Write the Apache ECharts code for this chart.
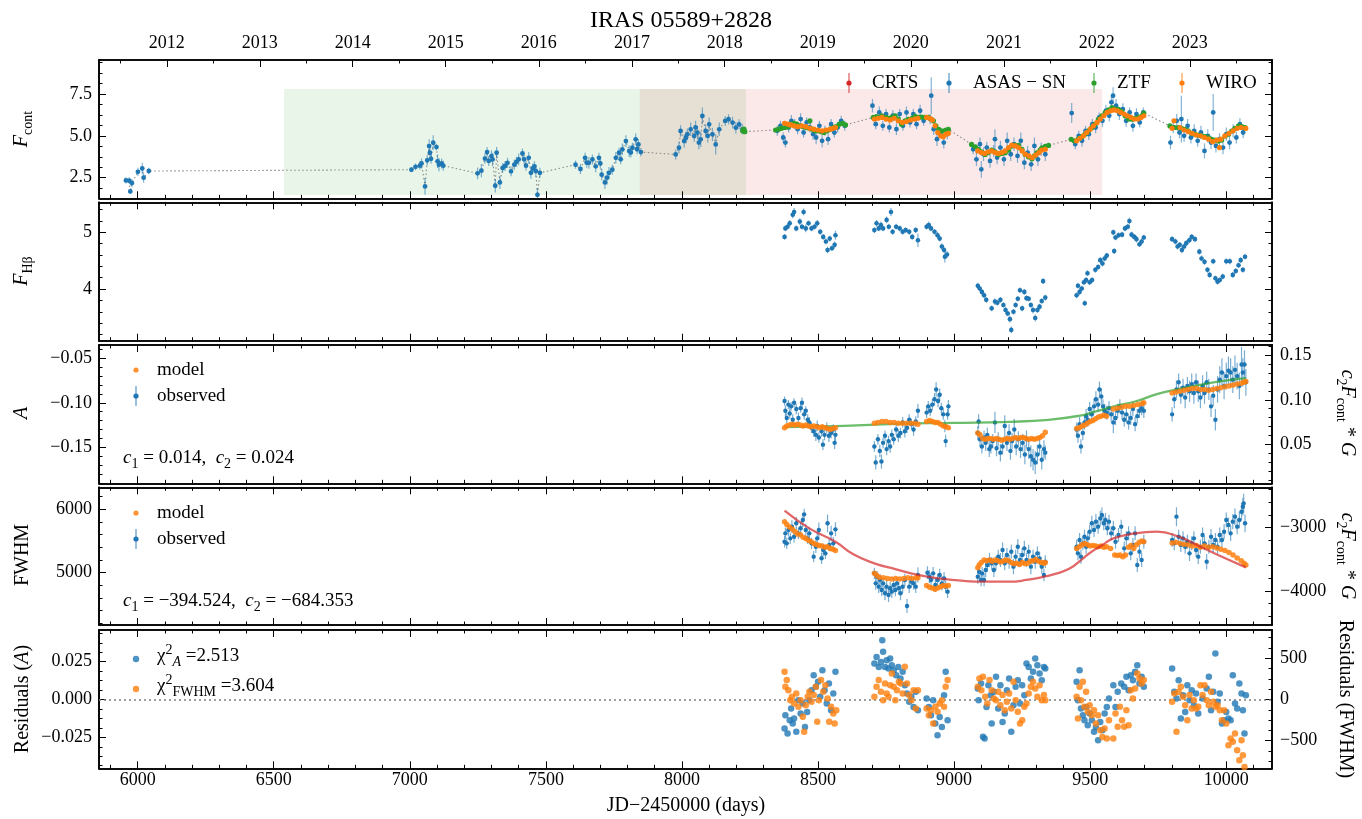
<!DOCTYPE html>
<html><head><meta charset="utf-8">
<script src="https://cdn.jsdelivr.net/npm/echarts@6/dist/echarts.min.js"></script>
<style>html,body{margin:0;padding:0;background:#fff}#c{width:1362px;height:819px}</style>
</head><body><div id="c"></div>
<script>
// ---------------- DATA ----------------
const xMajor = [6000,6500,7000,7500,8000,8500,9000,9500,10000];
const yearLabels = ['2012','2013','2014','2015','2016','2017','2018','2019','2020','2021','2022','2023'];
const yearTickJD = [6107,6449,6790,7132,7474,7816,8157,8499,8841,9183,9524,9866];
const yearMinorJD = [5936,6278,6620,6961,7303,7645,7987,8328,8670,9012,9354,9695,10037];

// shaded campaign windows (JD-2450000) and their vertical extent
const shadeGreen = [6538, 8235];
const shadePink = [7845, 9544];
const shadeY = [1.47, 7.8];

// Panel 1: continuum light curve [JD, F, err]
const asassn = [
[5957,2.34,0.18],[5969,2.32,0.2],[5973,1.68,0.15],[5979,2.18,0.25],[6001,2.85,0.25],[6017,3.05,0.35],[6022,2.50,0.3],[6041,2.90,0.2],
[7006,2.98,0.15],[7021,3.15,0.2],[7037,3.22,0.25],[7043,3.35,0.3],[7056,1.98,0.5],[7064,3.54,0.3],[7071,4.39,0.4],[7074,3.99,0.3],[7078,3.63,0.3],[7086,4.59,0.45],[7098,4.33,0.2],[7102,3.48,0.4],[7107,3.28,0.4],[7117,3.35,0.3],[7123,3.22,0.3],
[7249,2.76,0.35],[7263,2.92,0.4],[7276,3.64,0.3],[7284,4.03,0.3],[7290,3.50,0.3],[7300,3.79,0.35],[7304,3.59,0.4],[7314,2.02,0.4],[7319,3.99,0.35],[7331,2.22,0.4],[7341,3.08,0.3],[7350,3.20,0.3],[7359,3.39,0.3],[7372,2.88,0.3],[7384,3.28,0.3],[7392,3.45,0.3],[7400,3.59,0.35],[7414,3.95,0.3],[7420,3.60,0.3],[7427,3.22,0.3],[7437,3.69,0.35],[7445,2.79,0.35],[7452,3.05,0.3],[7458,3.18,0.3],[7463,2.90,0.35],[7469,1.48,0.4],[7478,2.79,0.3],
[7609,3.28,0.25],[7627,3.02,0.3],[7644,3.69,0.3],[7650,3.40,0.3],[7658,3.39,0.35],[7671,3.59,0.3],[7683,3.18,0.35],[7695,3.69,0.3],[7700,3.35,0.3],[7705,2.68,0.35],[7717,2.22,0.4],[7725,2.50,0.4],[7732,2.79,0.35],[7744,2.98,0.3],[7757,3.69,0.35],[7769,3.99,0.3],[7775,3.60,0.3],[7781,4.19,0.35],[7794,4.69,0.35],[7806,4.09,0.35],[7812,4.00,0.3],[7818,4.29,0.3],[7830,4.79,0.35],[7835,4.20,0.3],[7840,4.49,0.3],[7849,4.03,0.25],
[7977,3.89,0.3],[7989,4.29,0.35],[7995,5.29,0.35],[8008,4.69,0.4],[8015,4.90,0.35],[8020,5.09,0.35],[8032,5.39,0.4],[8045,4.99,0.35],[8050,5.50,0.4],[8057,5.19,0.4],[8062,4.60,0.4],[8069,4.79,0.45],[8075,6.19,0.5],[8087,5.29,0.4],[8095,5.00,0.4],[8100,5.69,0.4],[8112,5.09,0.4],[8124,4.49,0.6],[8137,5.39,0.4],[8159,5.89,0.3],[8171,5.99,0.3],[8186,5.79,0.35],[8198,5.49,0.35],[8210,5.69,0.3],[8222,5.39,0.3],
[8350,5.3,0.3],[8362,5.6,0.3],[8372,4.9,0.3],[8380,4.6,0.3],[8392,5.5,0.3],[8402,5.9,0.35],[8414,5.7,0.3],[8425,5.4,0.3],[8436,6.0,0.35],[8447,5.2,0.3],[8458,5.8,0.3],[8470,5.5,0.3],[8482,5.1,0.35],[8493,4.9,0.4],[8505,5.6,0.3],[8515,4.7,0.4],[8525,5.3,0.3],[8537,4.8,0.35],[8548,5.7,0.3],[8560,5.2,0.3],[8572,5.5,0.3],[8585,5.9,0.3],[8598,5.6,0.3],
[8700,6.8,0.4],[8712,5.7,0.3],[8725,6.4,0.35],[8738,5.6,0.3],[8750,6.3,0.3],[8762,5.5,0.3],[8775,6.2,0.35],[8788,5.4,0.35],[8800,6.3,0.3],[8812,5.6,0.3],[8825,6.4,0.35],[8838,5.8,0.3],[8850,6.3,0.3],[8862,5.7,0.3],[8875,6.5,0.35],[8888,5.9,0.3],[8916,7.4,1.1],[8912,6.0,0.3],[8925,5.4,0.35],[8937,4.8,0.4],[8950,5.2,0.3],[8962,4.6,0.35],[8975,5.1,0.3],
[9070,4.2,0.3],[9082,3.6,0.4],[9095,4.5,0.4],[9100,3.0,0.5],[9108,3.9,0.4],[9120,4.3,0.35],[9132,3.5,0.4],[9145,4.1,0.35],[9150,4.8,0.6],[9158,3.7,0.4],[9170,4.3,0.4],[9183,3.6,0.4],[9195,4.7,0.5],[9208,3.9,0.4],[9220,4.5,0.4],[9233,3.8,0.4],[9245,4.7,0.5],[9258,3.4,0.4],[9270,4.0,0.4],[9283,3.3,0.4],[9295,4.4,0.5],[9308,3.6,0.4],[9320,4.2,0.4],[9335,3.9,0.4],
[9432,6.36,0.6],[9445,4.5,0.3],[9458,5.0,0.3],[9470,4.7,0.35],[9483,5.3,0.3],[9495,5.1,0.35],[9508,5.7,0.3],[9520,5.5,0.35],[9533,6.1,0.3],[9545,5.9,0.35],[9558,6.5,0.35],[9570,6.2,0.35],[9578,7.0,0.4],[9584,7.4,0.5],[9595,6.8,0.4],[9607,6.3,0.35],[9620,6.6,0.35],[9632,5.9,0.35],[9645,6.4,0.3],[9657,5.6,0.35],[9670,6.3,0.35],[9682,5.8,0.3],[9695,6.4,0.3],
[9795,4.6,0.4],[9805,5.5,0.35],[9818,5.9,0.4],[9828,5.2,0.35],[9835,6.0,1.4],[9845,5.0,0.35],[9858,5.6,0.4],[9870,4.9,0.35],[9882,5.3,0.4],[9895,4.7,0.35],[9907,5.2,0.4],[9920,4.1,0.45],[9932,5.0,0.4],[9944,4.6,0.4],[9952,6.4,1.1],[9962,4.4,0.4],[9975,4.8,0.35],[9988,4.3,0.4],[10000,5.1,0.4],[10012,4.6,0.4],[10025,5.3,0.4],[10037,4.9,0.35],[10050,5.7,0.35],[10062,5.2,0.35]
];
const ztf = [
[8223,5.30,0.06],[8228,5.40,0.06],[8231,5.25,0.06],
[8344,5.35,0.05],[8355,5.40,0.05],[8366,5.45,0.05],[8378,5.50,0.05],[8390,5.55,0.05],[8400,5.70,0.05],[8412,5.75,0.05],[8422,5.70,0.05],[8434,5.60,0.05],[8445,5.55,0.05],[8456,5.50,0.05],[8467,5.45,0.05],[8470,5.90,0.05],[8478,5.40,0.05],[8489,5.30,0.05],[8500,5.30,0.05],[8512,5.25,0.05],[8522,5.20,0.05],[8534,5.30,0.05],[8545,5.40,0.05],[8556,5.50,0.05],[8567,5.55,0.05],[8578,5.70,0.05],[8590,5.75,0.05],[8601,5.65,0.05],
[8703,6.10,0.05],[8715,6.15,0.05],[8734,6.19,0.05],[8750,6.10,0.05],[8758,6.04,0.05],[8770,6.10,0.05],[8783,6.19,0.05],[8795,6.00,0.05],[8807,5.69,0.05],[8820,5.90,0.05],[8832,5.99,0.05],[8845,6.05,0.05],[8857,6.16,0.05],[8870,6.10,0.05],[8881,6.12,0.05],[8894,6.10,0.05],[8906,6.10,0.05],[8915,6.00,0.05],[8924,5.90,0.05],[8933,5.60,0.05],[8943,5.39,0.05],[8952,5.30,0.05],[8961,5.29,0.05],[8970,5.35,0.05],[8979,5.39,0.05],
[9064,4.49,0.05],[9078,4.35,0.05],[9089,4.19,0.05],[9100,4.05,0.05],[9114,3.89,0.05],[9126,4.00,0.05],[9138,4.15,0.05],[9150,4.05,0.05],[9163,3.89,0.05],[9175,3.95,0.05],[9188,3.99,0.05],[9200,4.15,0.05],[9212,4.39,0.05],[9224,4.45,0.05],[9237,4.43,0.05],[9249,4.20,0.05],[9261,3.89,0.05],[9273,3.75,0.05],[9286,3.63,0.05],[9295,3.80,0.05],[9304,3.99,0.05],[9316,4.15,0.05],[9323,4.29,0.05],[9335,4.38,0.05],[9347,4.43,0.05],
[9430,4.79,0.05],[9441,4.70,0.05],[9457,4.83,0.05],[9470,4.95,0.05],[9481,5.09,0.05],[9494,5.30,0.05],[9506,5.49,0.05],[9518,5.70,0.05],[9530,5.99,0.05],[9543,6.20,0.05],[9555,6.39,0.05],[9568,6.55,0.05],[9580,6.69,0.05],[9592,6.60,0.05],[9604,6.59,0.05],[9616,6.45,0.05],[9629,6.19,0.05],[9641,6.00,0.05],[9653,5.99,0.05],[9665,6.05,0.05],[9678,6.10,0.05],[9690,6.20,0.05],[9697,6.36,0.05],
[9793,5.59,0.05],[9810,5.50,0.05],[9823,5.49,0.05],[9836,5.45,0.05],[9848,5.39,0.05],[9860,5.30,0.05],[9873,5.15,0.05],[9885,5.10,0.05],[9897,5.03,0.05],[9910,5.00,0.05],[9922,4.95,0.05],[9934,4.90,0.05],[9946,4.79,0.05],[9958,4.75,0.05],[9971,4.69,0.05],[9983,4.75,0.05],[9996,4.99,0.05],[10008,5.10,0.05],[10020,5.29,0.05],[10032,5.45,0.05],[10045,5.59,0.05],[10057,5.55,0.05],[10069,5.49,0.05]
];
const wiro = [
[8377,5.75,0.08],[8390,5.70,0.08],[8400,5.65,0.08],[8412,5.60,0.08],[8425,5.55,0.08],[8440,5.60,0.08],[8455,5.55,0.08],[8470,5.45,0.08],[8485,5.40,0.08],[8500,5.35,0.08],[8515,5.30,0.08],[8530,5.35,0.08],[8545,5.40,0.08],[8556,5.45,0.08],[8564,5.50,0.08],
[8707,6.00,0.08],[8720,6.05,0.08],[8735,6.10,0.08],[8750,6.00,0.08],[8765,5.95,0.08],[8780,6.05,0.08],[8795,5.90,0.08],[8810,5.80,0.08],[8825,5.85,0.08],[8840,5.95,0.08],[8855,6.00,0.08],[8867,6.05,0.08],[8899,6.10,0.08],[8910,6.05,0.08],[8920,5.95,0.08],[8930,5.60,0.08],[8940,5.20,0.08],[8950,5.00,0.08],[8960,4.95,0.08],[8970,5.10,0.08],[8979,5.15,0.08],
[9087,4.10,0.08],[9100,4.00,0.08],[9112,3.95,0.08],[9125,4.05,0.08],[9138,4.10,0.08],[9150,4.00,0.08],[9162,3.95,0.08],[9175,4.00,0.08],[9187,4.10,0.08],[9200,4.30,0.08],[9212,4.45,0.08],[9225,4.40,0.08],[9237,4.30,0.08],[9250,4.10,0.08],[9262,3.90,0.08],[9275,3.80,0.08],[9287,3.70,0.08],[9300,3.85,0.08],[9312,4.00,0.08],[9322,4.15,0.08],[9335,4.20,0.08],
[9450,4.70,0.08],[9462,4.85,0.08],[9475,5.00,0.08],[9487,5.20,0.08],[9500,5.40,0.08],[9512,5.60,0.08],[9525,5.80,0.08],[9537,6.00,0.08],[9550,6.20,0.08],[9562,6.40,0.08],[9575,6.50,0.08],[9587,6.55,0.08],[9600,6.50,0.08],[9612,6.40,0.08],[9625,6.30,0.08],[9637,6.20,0.08],[9650,6.10,0.08],[9662,6.00,0.08],[9675,6.00,0.08],[9687,6.10,0.08],[9697,6.20,0.08],
[9801,5.45,0.08],[9808,5.90,0.08],[9830,5.50,0.08],[9845,5.35,0.08],[9860,5.25,0.08],[9875,5.15,0.08],[9890,5.05,0.08],[9905,5.00,0.08],[9920,4.90,0.08],[9935,4.80,0.08],[9950,4.65,0.08],[9965,4.75,0.08],[9975,4.30,0.08],[9980,4.80,0.08],[9995,5.00,0.08],[10010,5.15,0.08],[10025,5.30,0.08],[10040,5.45,0.08],[10055,5.50,0.08],[10072,5.45,0.08]
];

// Panel 2: Hbeta flux [JD, F, err]
const hbeta = [
[8377,4.92,0.05],[8380,5.07,0.05],[8388,5.10,0.05],[8396,5.16,0.06],[8407,5.31,0.06],[8412,5.36,0.07],[8420,5.07,0.05],[8433,5.19,0.06],[8441,5.10,0.05],[8447,5.36,0.06],[8455,5.07,0.07],[8465,5.16,0.05],[8476,5.07,0.05],[8487,5.10,0.05],[8497,5.16,0.06],[8508,5.01,0.05],[8519,4.92,0.05],[8529,4.84,0.05],[8535,4.69,0.06],[8543,4.89,0.05],[8551,4.72,0.05],[8561,4.78,0.06],[8564,4.95,0.08],
[8707,5.04,0.05],[8715,5.16,0.06],[8723,5.07,0.05],[8731,5.13,0.06],[8739,5.07,0.05],[8752,5.22,0.06],[8760,5.10,0.05],[8768,5.36,0.07],[8774,5.01,0.05],[8787,5.10,0.05],[8800,5.07,0.05],[8811,5.01,0.05],[8822,5.04,0.05],[8835,5.01,0.05],[8846,4.92,0.05],[8859,5.04,0.05],[8867,4.86,0.12],[8899,5.10,0.05],[8907,5.13,0.06],[8915,5.07,0.05],[8928,5.01,0.05],[8939,4.95,0.06],[8947,4.89,0.05],[8955,4.75,0.06],[8963,4.69,0.05],[8966,4.57,0.1],[8974,4.61,0.06],
[9087,4.06,0.05],[9094,4.01,0.05],[9102,3.95,0.05],[9110,3.89,0.05],[9118,3.81,0.05],[9138,3.66,0.05],[9150,3.78,0.06],[9159,3.76,0.05],[9170,3.81,0.05],[9181,3.72,0.05],[9189,3.63,0.06],[9197,3.57,0.05],[9205,3.47,0.06],[9210,3.28,0.06],[9218,3.60,0.05],[9226,3.72,0.05],[9234,3.83,0.05],[9242,3.98,0.05],[9250,3.66,0.05],[9258,3.95,0.05],[9266,3.84,0.05],[9274,3.83,0.05],[9282,3.72,0.05],[9290,3.63,0.06],[9298,3.49,0.06],[9306,3.63,0.05],[9314,3.69,0.05],[9322,3.79,0.05],[9327,4.14,0.05],[9335,3.85,0.05],
[9450,3.89,0.05],[9455,4.06,0.05],[9461,3.95,0.06],[9469,4.01,0.05],[9477,4.12,0.05],[9480,3.75,0.05],[9485,4.16,0.05],[9490,4.28,0.05],[9498,4.12,0.05],[9507,4.16,0.05],[9519,4.34,0.05],[9529,4.39,0.05],[9537,4.51,0.05],[9545,4.45,0.05],[9553,4.54,0.05],[9561,4.59,0.05],[9585,5.00,0.05],[9588,4.67,0.05],[9593,4.91,0.05],[9604,4.95,0.05],[9617,4.96,0.05],[9628,5.07,0.05],[9638,5.10,0.05],[9644,5.20,0.06],[9652,4.96,0.05],[9662,4.92,0.05],[9670,4.88,0.06],[9681,4.79,0.05],[9689,4.84,0.05],[9697,4.91,0.05],
[9801,4.88,0.05],[9813,4.84,0.05],[9821,4.75,0.05],[9829,4.78,0.05],[9837,4.69,0.06],[9845,4.75,0.05],[9853,4.81,0.05],[9864,4.86,0.05],[9873,4.92,0.05],[9885,4.88,0.05],[9901,4.66,0.05],[9909,4.54,0.05],[9920,4.48,0.05],[9931,4.34,0.05],[9939,4.25,0.05],[9952,4.49,0.05],[9960,4.19,0.05],[9968,4.13,0.05],[9976,4.16,0.05],[9987,4.22,0.05],[10000,4.49,0.05],[10013,4.49,0.05],[10024,4.25,0.05],[10035,4.32,0.05],[10045,4.42,0.05],[10053,4.51,0.05],[10061,4.34,0.05],[10069,4.57,0.05]
];

// Panel 3: A observed [JD, A, err], model [JD, A], c2*Fcont*G curve [JD, value]
const obsA = [
[8377,-0.098,0.005],[8380,-0.109,0.006],[8385,-0.117,0.006],[8391,-0.102,0.005],[8396,-0.112,0.006],[8401,-0.104,0.005],[8407,-0.119,0.006],[8412,-0.100,0.005],[8420,-0.107,0.006],[8428,-0.117,0.006],[8436,-0.106,0.005],[8441,-0.100,0.006],[8449,-0.113,0.006],[8455,-0.109,0.005],[8462,-0.119,0.006],[8468,-0.122,0.006],[8476,-0.128,0.006],[8484,-0.132,0.006],[8492,-0.136,0.007],[8497,-0.126,0.006],[8503,-0.139,0.006],[8513,-0.132,0.006],[8518,-0.147,0.006],[8524,-0.136,0.006],[8532,-0.128,0.006],[8540,-0.137,0.007],[8548,-0.134,0.006],[8556,-0.130,0.006],[8561,-0.145,0.007],[8564,-0.136,0.008],
[8707,-0.149,0.006],[8712,-0.167,0.008],[8720,-0.141,0.006],[8727,-0.154,0.007],[8733,-0.166,0.008],[8739,-0.145,0.006],[8746,-0.137,0.006],[8752,-0.152,0.007],[8759,-0.143,0.006],[8765,-0.149,0.007],[8771,-0.136,0.006],[8778,-0.141,0.006],[8787,-0.130,0.006],[8795,-0.137,0.007],[8803,-0.134,0.006],[8811,-0.122,0.006],[8819,-0.132,0.007],[8827,-0.128,0.006],[8835,-0.119,0.006],[8843,-0.124,0.006],[8851,-0.130,0.007],[8859,-0.121,0.006],[8867,-0.109,0.008],[8899,-0.111,0.006],[8905,-0.104,0.006],[8912,-0.109,0.006],[8920,-0.102,0.006],[8928,-0.096,0.007],[8934,-0.085,0.008],[8941,-0.098,0.007],[8947,-0.091,0.007],[8953,-0.106,0.006],[8960,-0.113,0.006],[8966,-0.126,0.007],[8969,-0.143,0.007],[8976,-0.113,0.006],[8979,-0.104,0.007],
[9087,-0.134,0.008],[9090,-0.121,0.008],[9095,-0.141,0.008],[9102,-0.149,0.008],[9110,-0.139,0.008],[9116,-0.145,0.009],[9122,-0.136,0.008],[9129,-0.152,0.009],[9135,-0.149,0.008],[9142,-0.143,0.008],[9150,-0.122,0.012],[9156,-0.151,0.009],[9162,-0.141,0.008],[9170,-0.156,0.01],[9178,-0.149,0.009],[9186,-0.126,0.012],[9194,-0.145,0.009],[9202,-0.134,0.01],[9207,-0.154,0.01],[9213,-0.143,0.009],[9221,-0.130,0.012],[9228,-0.149,0.01],[9236,-0.141,0.009],[9244,-0.152,0.01],[9252,-0.145,0.01],[9260,-0.158,0.011],[9266,-0.141,0.01],[9274,-0.152,0.011],[9282,-0.160,0.012],[9290,-0.164,0.012],[9298,-0.167,0.013],[9306,-0.158,0.011],[9314,-0.149,0.01],[9322,-0.164,0.011],[9330,-0.152,0.01],[9335,-0.156,0.008],
[9450,-0.130,0.008],[9455,-0.137,0.008],[9461,-0.124,0.008],[9466,-0.149,0.008],[9473,-0.134,0.008],[9479,-0.122,0.008],[9485,-0.115,0.008],[9491,-0.119,0.008],[9498,-0.107,0.008],[9506,-0.113,0.008],[9514,-0.104,0.008],[9521,-0.096,0.009],[9529,-0.102,0.008],[9534,-0.085,0.009],[9541,-0.093,0.009],[9547,-0.104,0.008],[9553,-0.109,0.008],[9561,-0.111,0.008],[9569,-0.106,0.008],[9577,-0.113,0.008],[9585,-0.122,0.012],[9593,-0.117,0.008],[9601,-0.109,0.008],[9609,-0.104,0.008],[9617,-0.111,0.008],[9625,-0.119,0.008],[9633,-0.113,0.008],[9641,-0.122,0.008],[9649,-0.117,0.008],[9657,-0.107,0.008],[9665,-0.124,0.008],[9673,-0.115,0.008],[9681,-0.109,0.008],[9689,-0.106,0.008],[9697,-0.109,0.008],
[9801,-0.113,0.008],[9809,-0.096,0.01],[9817,-0.085,0.01],[9825,-0.077,0.01],[9833,-0.091,0.01],[9841,-0.083,0.01],[9849,-0.094,0.012],[9857,-0.081,0.01],[9865,-0.087,0.012],[9873,-0.079,0.012],[9881,-0.089,0.012],[9889,-0.077,0.01],[9897,-0.087,0.012],[9905,-0.094,0.012],[9913,-0.081,0.012],[9920,-0.089,0.012],[9928,-0.077,0.012],[9936,-0.085,0.012],[9944,-0.104,0.012],[9952,-0.092,0.012],[9960,-0.119,0.012],[9968,-0.085,0.015],[9976,-0.074,0.015],[9984,-0.066,0.016],[9992,-0.081,0.015],[10000,-0.070,0.015],[10008,-0.064,0.016],[10016,-0.066,0.016],[10024,-0.074,0.015],[10032,-0.063,0.016],[10040,-0.070,0.015],[10048,-0.081,0.015],[10056,-0.057,0.02],[10061,-0.066,0.016],[10067,-0.057,0.016],[10072,-0.077,0.015]
];
const modelA = [
[8377,-0.128],[8385,-0.126],[8395,-0.125],[8405,-0.124],[8415,-0.125],[8425,-0.124],[8435,-0.125],[8445,-0.126],[8455,-0.125],[8465,-0.126],[8475,-0.127],[8485,-0.126],[8495,-0.127],[8505,-0.128],[8515,-0.127],[8525,-0.128],[8535,-0.129],[8545,-0.130],[8555,-0.129],[8564,-0.128],
[8707,-0.123],[8720,-0.122],[8735,-0.121],[8750,-0.121],[8765,-0.122],[8780,-0.122],[8795,-0.123],[8810,-0.123],[8825,-0.123],[8840,-0.123],[8855,-0.123],[8867,-0.124],[8899,-0.121],[8910,-0.120],[8920,-0.121],[8930,-0.122],[8940,-0.122],[8950,-0.124],[8960,-0.126],[8970,-0.127],[8979,-0.128],
[9087,-0.134],[9095,-0.136],[9105,-0.140],[9115,-0.141],[9125,-0.140],[9135,-0.140],[9145,-0.141],[9155,-0.140],[9165,-0.141],[9175,-0.142],[9185,-0.141],[9195,-0.140],[9205,-0.141],[9215,-0.140],[9225,-0.139],[9235,-0.140],[9245,-0.139],[9255,-0.139],[9265,-0.140],[9275,-0.141],[9285,-0.140],[9295,-0.141],[9305,-0.140],[9315,-0.139],[9325,-0.137],[9335,-0.133],
[9450,-0.129],[9460,-0.128],[9470,-0.126],[9480,-0.125],[9490,-0.123],[9500,-0.121],[9510,-0.120],[9520,-0.118],[9530,-0.116],[9540,-0.115],[9550,-0.114],[9560,-0.115],[9585,-0.107],[9600,-0.106],[9615,-0.105],[9630,-0.104],[9645,-0.104],[9660,-0.103],[9675,-0.102],[9690,-0.101],[9697,-0.100],
[9801,-0.089],[9815,-0.088],[9830,-0.087],[9845,-0.086],[9860,-0.085],[9875,-0.084],[9890,-0.084],[9905,-0.085],[9920,-0.085],[9935,-0.086],[9950,-0.085],[9965,-0.084],[9980,-0.083],[9995,-0.082],[10010,-0.081],[10025,-0.080],[10040,-0.079],[10055,-0.078],[10065,-0.077],[10072,-0.076]
];
const curveA = [[8377,0.0693],[8596,0.0708],[8787,0.0730],[9001,0.0741],[9202,0.0753],[9346,0.0775],[9458,0.0820],[9521,0.0869],[9585,0.0925],[9665,0.0981],[9745,0.1063],[9825,0.1120],[9905,0.1169],[9984,0.1210],[10072,0.1243]];

// Panel 4: FWHM observed [JD, FWHM, err], model [JD, FWHM], c2*Fcont*G curve
const obsW = [
[8377,5489,90],[8380,5621,90],[8385,5463,90],[8391,5673,100],[8398,5542,90],[8404,5726,100],[8412,5568,90],[8420,5779,100],[8428,5621,90],[8436,5700,100],[8444,5831,110],[8449,5920,90],[8455,5673,100],[8462,5542,90],[8468,5621,100],[8476,5463,90],[8484,5253,90],[8492,5410,100],[8497,5542,100],[8503,5673,120],[8513,5227,90],[8519,5358,100],[8527,5305,90],[8535,5779,140],[8541,5437,100],[8548,5621,120],[8556,5463,100],[8564,5684,110],
[8707,4990,90],[8712,4832,100],[8717,4937,90],[8723,4780,100],[8728,4885,90],[8734,4727,100],[8739,4832,90],[8746,4675,110],[8752,4780,100],[8759,4648,110],[8765,4754,100],[8771,4701,100],[8778,4806,100],[8784,4727,100],[8790,4832,100],[8797,4754,100],[8803,4675,110],[8811,4780,100],[8819,4885,100],[8827,4475,110],[8835,4780,100],[8843,4859,100],[8851,4832,100],[8859,4780,100],[8867,4964,120],[8902,5000,100],[8909,4937,100],[8915,4885,110],[8923,4990,100],[8931,4806,110],[8939,4885,100],[8947,4964,100],[8955,4832,110],[8963,4911,100],[8969,4780,100],[8976,4701,100],
[9087,4937,110],[9092,5016,100],[9099,4885,100],[9103,4990,100],[9110,4885,100],[9116,5042,110],[9122,5121,110],[9130,5200,110],[9138,5148,100],[9146,5042,110],[9154,5148,110],[9162,5253,110],[9170,5200,110],[9178,5358,120],[9186,5148,110],[9194,5279,110],[9202,5174,110],[9210,5332,110],[9218,5095,120],[9226,5253,110],[9234,5410,120],[9242,5200,110],[9250,5279,110],[9258,5384,120],[9266,5200,110],[9274,5332,110],[9282,5095,120],[9290,5253,110],[9298,5174,110],[9306,5305,110],[9314,5226,110],[9322,5095,110],[9330,4964,100],[9335,5174,100],
[9450,5410,110],[9455,5305,110],[9461,5516,110],[9466,5253,110],[9473,5463,110],[9479,5568,110],[9485,5410,110],[9491,5542,110],[9498,5647,110],[9506,5779,120],[9514,5673,110],[9521,5805,120],[9529,5726,110],[9537,5857,120],[9543,5910,120],[9550,5779,110],[9556,5831,110],[9563,5700,110],[9569,5805,110],[9577,5621,110],[9585,5700,120],[9593,5489,110],[9604,5594,110],[9614,5726,110],[9625,5384,110],[9633,5542,110],[9641,5621,110],[9649,5305,110],[9657,5437,110],[9665,5621,110],[9673,5121,110],[9681,5332,110],[9689,5200,110],[9697,5489,110],
[9801,5516,110],[9809,5463,110],[9817,5884,150],[9825,5568,110],[9833,5437,110],[9841,5542,110],[9849,5410,110],[9857,5489,110],[9865,5305,120],[9873,5463,110],[9881,5542,110],[9889,5358,110],[9897,5253,120],[9905,5410,110],[9913,5594,120],[9920,5463,110],[9928,5174,120],[9936,5410,110],[9944,5568,120],[9952,5437,110],[9960,5516,110],[9968,5410,110],[9976,5594,120],[9984,5516,110],[9992,5647,120],[10000,5831,120],[10008,5752,120],[10016,5621,120],[10024,5805,120],[10032,5884,130],[10040,5726,120],[10048,5831,130],[10056,5962,140],[10061,6041,140],[10064,6094,150],[10069,5779,140]
];
const modelW = [
[8377,5805],[8385,5760],[8395,5720],[8405,5690],[8415,5650],[8425,5610],[8435,5600],[8445,5560],[8455,5540],[8465,5510],[8475,5490],[8485,5460],[8495,5440],[8505,5430],[8515,5420],[8525,5400],[8535,5410],[8545,5380],[8555,5370],[8564,5350],
[8707,4990],[8715,4960],[8725,4930],[8740,4920],[8755,4910],[8770,4900],[8785,4910],[8800,4900],[8815,4910],[8830,4920],[8845,4910],[8860,4920],[8867,4920],[8899,4800],[8910,4770],[8920,4760],[8930,4740],[8940,4760],[8950,4780],[8960,4800],[8970,4790],[8979,4800],
[9087,5080],[9092,5120],[9100,5160],[9110,5200],[9120,5190],[9130,5200],[9140,5180],[9150,5200],[9160,5190],[9170,5170],[9180,5180],[9190,5200],[9200,5190],[9210,5160],[9220,5140],[9230,5150],[9240,5130],[9250,5160],[9260,5140],[9270,5150],[9280,5180],[9290,5190],[9300,5210],[9310,5180],[9320,5160],[9330,5150],[9335,5160],
[9450,5380],[9460,5410],[9470,5440],[9480,5460],[9490,5440],[9500,5420],[9510,5430],[9520,5420],[9530,5410],[9540,5420],[9550,5400],[9560,5410],[9575,5380],[9590,5280],[9600,5270],[9610,5280],[9620,5250],[9630,5280],[9640,5400],[9650,5430],[9660,5380],[9670,5440],[9680,5480],[9690,5500],[9697,5490],
[9801,5470],[9815,5480],[9830,5460],[9845,5450],[9860,5440],[9875,5420],[9890,5430],[9905,5400],[9920,5420],[9935,5400],[9950,5410],[9965,5390],[9980,5370],[9995,5350],[10010,5320],[10025,5280],[10040,5230],[10055,5190],[10065,5150],[10072,5120]
];
const curveW = [[8377,-2732],[8468,-3011],[8564,-3221],[8628,-3416],[8707,-3563],[8787,-3658],[8867,-3747],[8947,-3800],[9027,-3837],[9106,-3853],[9202,-3853],[9266,-3826],[9330,-3774],[9378,-3721],[9426,-3642],[9466,-3511],[9505,-3379],[9545,-3274],[9585,-3168],[9665,-3089],[9745,-3063],[9825,-3142],[9905,-3300],[9984,-3458],[10072,-3626]];

// Panel 5: residuals [JD, value]
const resA = [
[8377,-0.0192],[8380,-0.0104],[8388,-0.0225],[8396,-0.0137],[8401,-0.0060],[8407,-0.0159],[8412,-0.0126],[8420,-0.0214],[8428,-0.0004],[8436,-0.0093],[8444,-0.0026],[8452,-0.0181],[8460,-0.0082],[8468,-0.0004],[8476,0.0062],[8484,0.0161],[8492,0.0084],[8500,0.0117],[8508,0.0018],[8516,0.0194],[8524,0.0062],[8532,-0.0026],[8540,0.0106],[8548,-0.0071],[8556,0.0040],[8564,0.0183],
[8707,0.0238],[8715,0.0282],[8723,0.0216],[8731,0.0249],[8736,0.0393],[8739,0.0316],[8746,0.0216],[8752,0.0260],[8759,0.0205],[8765,0.0271],[8771,0.0227],[8778,0.0194],[8787,0.0161],[8795,0.0216],[8803,0.0139],[8811,0.0183],[8819,0.0095],[8827,0.0040],[8835,-0.0015],[8843,0.0018],[8851,-0.0049],[8859,0.0051],[8867,-0.0071],[8899,0.0007],[8907,-0.0049],[8915,-0.0104],[8923,-0.0004],[8931,-0.0159],[8939,-0.0236],[8947,-0.0115],[8955,-0.0181],[8963,0.0029],[8969,0.0183],[8976,-0.0137],
[9087,0.0073],[9090,-0.0004],[9099,0.0106],[9106,-0.0247],[9112,-0.0258],[9119,-0.0049],[9126,0.0095],[9134,0.0029],[9138,-0.0159],[9146,0.0051],[9154,0.0150],[9162,-0.0060],[9170,0.0095],[9178,-0.0148],[9186,-0.0093],[9194,0.0062],[9202,0.0139],[9210,-0.0214],[9218,-0.0038],[9226,0.0084],[9234,0.0128],[9242,-0.0026],[9250,0.0095],[9258,0.0029],[9266,0.0238],[9274,0.0216],[9282,0.0139],[9290,0.0183],[9298,0.0271],[9306,0.0227],[9314,0.0172],[9322,0.0128],[9330,0.0216],[9335,0.0205],
[9450,0.0117],[9455,-0.0004],[9461,0.0194],[9466,-0.0060],[9473,-0.0104],[9479,-0.0137],[9485,-0.0049],[9491,-0.0170],[9498,-0.0093],[9506,-0.0137],[9514,-0.0214],[9521,-0.0181],[9529,-0.0269],[9537,-0.0148],[9545,-0.0203],[9553,-0.0093],[9561,-0.0049],[9569,0.0007],[9585,0.0095],[9593,-0.0049],[9601,0.0051],[9614,0.0106],[9625,0.0084],[9633,0.0150],[9641,0.0062],[9649,0.0161],[9657,0.0128],[9665,0.0183],[9673,0.0227],[9681,0.0106],[9689,0.0150],[9697,0.0084],
[9801,0.0205],[9809,0.0051],[9817,0.0007],[9825,0.0128],[9833,-0.0126],[9841,0.0029],[9849,-0.0082],[9857,0.0095],[9865,-0.0004],[9873,0.0062],[9881,-0.0038],[9889,0.0040],[9897,-0.0093],[9913,0.0007],[9928,0.0073],[9936,0.0150],[9944,-0.0071],[9952,0.0051],[9960,0.0305],[9968,-0.0015],[9976,0.0040],[9984,-0.0159],[9992,-0.0137],[10000,-0.0082],[10008,-0.0126],[10016,-0.0137],[10024,0.0161],[10032,-0.0026],[10040,-0.0060],[10048,0.0106],[10056,0.0040],[10061,-0.0071],[10067,-0.0225],[10072,0.0029]
];
const resW = [
[8377,336],[8380,154],[8385,235],[8391,113],[8398,-8],[8404,32],[8412,-49],[8420,73],[8428,-89],[8436,-8],[8444,-211],[8449,-393],[8455,-69],[8462,32],[8468,93],[8476,-28],[8484,53],[8492,154],[8497,-271],[8503,-8],[8511,235],[8519,93],[8527,174],[8535,12],[8541,-271],[8548,-89],[8556,-170],[8561,-292],[8567,-130],
[8707,32],[8715,154],[8723,235],[8731,93],[8739,-8],[8746,194],[8752,73],[8759,32],[8765,174],[8771,316],[8778,154],[8784,-8],[8790,113],[8797,215],[8803,194],[8811,73],[8819,397],[8827,194],[8835,53],[8843,-8],[8851,113],[8859,-109],[8867,113],[8899,-109],[8907,-190],[8915,-130],[8923,-292],[8931,-89],[8939,-150],[8947,-49],[8955,-8],[8963,-89],[8969,154],[8976,235],
[9087,154],[9093,255],[9100,113],[9106,275],[9114,32],[9122,-49],[9130,235],[9138,113],[9146,12],[9154,-8],[9162,93],[9170,-69],[9178,53],[9186,-130],[9194,-28],[9202,73],[9210,-109],[9218,215],[9226,-8],[9234,-150],[9242,-292],[9250,-251],[9258,-89],[9266,-49],[9274,73],[9282,154],[9290,215],[9298,134],[9306,32],[9314,174],[9322,-8],[9330,53],[9335,-8],
[9450,32],[9455,-231],[9461,154],[9466,-8],[9473,215],[9479,-89],[9485,93],[9491,-150],[9498,-69],[9506,-190],[9514,-130],[9521,-292],[9529,-190],[9537,-373],[9545,-454],[9553,-352],[9561,-474],[9569,-251],[9585,-474],[9593,-170],[9601,-332],[9609,-89],[9617,-251],[9625,-332],[9633,-130],[9641,-312],[9649,113],[9657,12],[9665,134],[9673,316],[9681,255],[9689,194],[9697,235],
[9801,-28],[9809,73],[9817,-393],[9825,93],[9833,154],[9841,32],[9849,-69],[9857,-251],[9865,53],[9873,-109],[9881,-8],[9889,-109],[9897,-89],[9905,174],[9913,53],[9920,174],[9928,-8],[9936,-69],[9944,93],[9952,-28],[9960,-89],[9968,-69],[9976,-130],[9984,-251],[9992,-130],[10000,-292],[10008,-555],[10016,-474],[10024,-514],[10032,-413],[10040,-616],[10048,-737],[10056,-494],[10061,-676],[10067,-818]
];

// ---------------- CHART ----------------
const FONT = '"Liberation Serif", "DejaVu Serif", serif';
const C_BLUE='#1f77b4', C_ORANGE='#ff7f0e', C_GREEN='#2ca02c', C_RED='#d62728';
const X_MIN = 5858, X_MAX = 10168;

function stepTicks(min, max, step){
  const out=[]; let k=Math.ceil(min/step-1e-9);
  for(;k*step<=max+1e-9;k++) out.push(+(k*step).toFixed(6));
  return out;
}
function fmtNum(d){ return v => (v<0?'\u2212':'') + Math.abs(v).toFixed(d); }

// panels: y ranges & ticks
const panels = [
  {top:60,  h:138.3, L:{min:1.27,max:9.53,maj:[2.5,5,7.5],step:0.625,d:1}, R:null},
  {top:202.3,h:138.4, L:{min:3.09,max:5.53,maj:[4,5],step:0.2,d:0}, R:null},
  {top:345, h:138.3, L:{min:-0.1904,max:-0.0351,maj:[-0.15,-0.10,-0.05],step:0.01,d:2}, R:{min:0.0062,max:0.1616,maj:[0.05,0.10,0.15],step:0.01,d:2}},
  {top:487.3,h:137.7, L:{min:4175,max:6347,maj:[5000,6000],step:200,d:0}, R:{min:-4537,max:-2362,maj:[-4000,-3000],step:200,d:0}},
  {top:630, h:138.3, L:{min:-0.0455,max:0.046,maj:[-0.025,0,0.025],step:0.00625,d:3}, R:{min:-835,max:843,maj:[-500,0,500],step:125,d:0}}
];

const grids=[], xAxes=[], yAxes=[];
const lineStyleAxis = {color:'#000', width:1.6};
const labelBase = {color:'#000', fontFamily:FONT, fontSize:18};

function axis(gridIndex, pos, min, max, ticks, len, labelVals, fmt, margin){
  return {type:'value', gridIndex, position:pos, min, max,
    splitLine:{show:false}, splitArea:{show:false},
    axisLine:{show:true, onZero:false, lineStyle:lineStyleAxis},
    axisTick:{show:true, inside:true, length:len, customValues:ticks, lineStyle:{color:'#000', width:1}},
    axisLabel: labelVals ? Object.assign({show:true, customValues:labelVals, formatter:fmt, margin}, labelBase) : {show:false},
    minorTick:{show:false}, axisPointer:{show:false}};
}

const xMinor = stepTicks(X_MIN, X_MAX, 100);
panels.forEach((p,i)=>{
  grids.push({left:99, right:90, top:p.top, height:p.h, containLabel:false});
  const last = i===4;
  xAxes.push(axis(i,'bottom',X_MIN,X_MAX,xMajor,7, last?xMajor:null, v=>String(v), 3));
  xAxes.push(axis(i,'bottom',X_MIN,X_MAX,xMinor,3.5,null));
  if(i===0){
    xAxes.push(axis(i,'top',X_MIN,X_MAX,yearTickJD,7,yearTickJD, v=>yearLabels[yearTickJD.indexOf(v)]||'', 8));
    xAxes.push(axis(i,'top',X_MIN,X_MAX,yearMinorJD,3.5,null));
  } else {
    xAxes.push(axis(i,'top',X_MIN,X_MAX,xMajor,7,null));
    xAxes.push(axis(i,'top',X_MIN,X_MAX,xMinor,3.5,null));
  }
  const L=p.L, R=p.R||p.L;
  yAxes.push(axis(i,'left',L.min,L.max,L.maj,7,L.maj,fmtNum(L.d),7));
  yAxes.push(axis(i,'left',L.min,L.max,stepTicks(L.min,L.max,L.step),3.5,null));
  yAxes.push(axis(i,'right',R.min,R.max,R.maj,7,p.R?R.maj:null,fmtNum(R.d),8));
  yAxes.push(axis(i,'right',R.min,R.max,stepTicks(R.min,R.max,R.step),3.5,null));
});

function errSeries(name, data, panel, right, color, r, lineOpacity, z){
  return {type:'custom', name, xAxisIndex:panel*4, yAxisIndex:panel*4+(right?2:0), data, clip:true, z,
    encode:{x:0, y:1},
    renderItem:(params, api)=>{
      const x=api.value(0), y=api.value(1), e=api.value(2);
      const c=api.coord([x,y]), lo=api.coord([x,y-e]), hi=api.coord([x,y+e]);
      return {type:'group', children:[
        {type:'line', shape:{x1:c[0],y1:lo[1],x2:c[0],y2:hi[1]}, style:{stroke:color, lineWidth:1.2, opacity:lineOpacity}},
        {type:'circle', shape:{cx:c[0],cy:c[1],r}, style:{fill:color}}
      ]};
    }};
}

const trend = asassn.filter(d=>d[0]<ztf[0][0]).concat(ztf).map(d=>[d[0],d[1]]);

const series = [
  {type:'line', name:'trend', xAxisIndex:0, yAxisIndex:0, data:trend, showSymbol:false, z:1, silent:true,
   lineStyle:{color:'#8a8a8a', width:1.1, type:[1.5,2.5]},
   markArea:{silent:true, z:0, data:[
     [{xAxis:shadeGreen[0], yAxis:shadeY[0], itemStyle:{color:'rgba(44,160,44,0.11)'}},{xAxis:shadeGreen[1], yAxis:shadeY[1]}],
     [{xAxis:shadePink[0], yAxis:shadeY[0], itemStyle:{color:'rgba(214,39,40,0.10)'}},{xAxis:shadePink[1], yAxis:shadeY[1]}]
   ]}},
  errSeries('ASAS-SN', asassn, 0, false, C_BLUE, 2.4, 0.55, 2),
  errSeries('ZTF', ztf, 0, false, C_GREEN, 2.6, 0.6, 3),
  errSeries('WIRO', wiro, 0, false, C_ORANGE, 2.6, 0.6, 4),
  errSeries('Hbeta', hbeta, 1, false, C_BLUE, 2.3, 0.6, 2),
  errSeries('A obs', obsA, 2, false, C_BLUE, 2.2, 0.6, 2),
  {type:'line', name:'A curve', xAxisIndex:8, yAxisIndex:10, data:curveA, smooth:true, showSymbol:false, z:3,
   lineStyle:{color:C_GREEN, width:2.3, opacity:0.7}},
  {type:'scatter', name:'A model', xAxisIndex:8, yAxisIndex:8, data:modelA, symbolSize:5.5, z:4,
   itemStyle:{color:C_ORANGE, opacity:0.85}},
  errSeries('FWHM obs', obsW, 3, false, C_BLUE, 2.2, 0.6, 2),
  {type:'scatter', name:'FWHM model', xAxisIndex:12, yAxisIndex:12, data:modelW, symbolSize:5.5, z:3,
   itemStyle:{color:C_ORANGE, opacity:0.85}},
  {type:'line', name:'FWHM curve', xAxisIndex:12, yAxisIndex:14, data:curveW, smooth:true, showSymbol:false, z:4,
   lineStyle:{color:C_RED, width:2.3, opacity:0.7}},
  {type:'scatter', name:'res A', xAxisIndex:16, yAxisIndex:16, data:resA, symbolSize:6.5, z:3,
   itemStyle:{color:C_BLUE, opacity:0.8},
   markLine:{silent:true, symbol:'none', label:{show:false}, z:2,
     lineStyle:{color:'#7f7f7f', width:1.6, type:[2,3]}, data:[{yAxis:0}]}},
  {type:'scatter', name:'res FWHM', xAxisIndex:16, yAxisIndex:18, data:resW, symbolSize:6.5, z:4,
   itemStyle:{color:C_ORANGE, opacity:0.8}}
];

// ------------- text / legends ---------------
const rich = {
  i:{fontFamily:FONT, fontSize:20, fontStyle:'italic', lineHeight:26, fill:'#000'},
  n:{fontFamily:FONT, fontSize:20, lineHeight:26, fill:'#000'},
  s:{fontFamily:FONT, fontSize:14, lineHeight:14, verticalAlign:'bottom', fill:'#000'},
  si:{fontFamily:FONT, fontSize:14, fontStyle:'italic', lineHeight:14, verticalAlign:'bottom', fill:'#000'},
  p:{fontFamily:FONT, fontSize:14, lineHeight:14, verticalAlign:'top', fill:'#000'}
};
function txt(x,y,text,rot,align,size){
  const r = JSON.parse(JSON.stringify(rich));
  if(size){ r.i.fontSize=size; r.n.fontSize=size; }
  return {type:'text', x, y, rotation:rot||0, z:100,
    style:{text, rich:r, align:align||'center', verticalAlign:'middle', fill:'#000', fontFamily:FONT, fontSize:size||20}};
}
function errMarker(x,y,color,h){
  return [{type:'line', z:100, shape:{x1:x,y1:y-h,x2:x,y2:y+h}, style:{stroke:color, lineWidth:1.3, opacity:0.7}},
          {type:'circle', z:101, shape:{cx:x,cy:y,r:2.6}, style:{fill:color}}];
}
function dot(x,y,color,r,op){ return {type:'circle', z:101, shape:{cx:x,cy:y,r}, style:{fill:color, opacity:op}}; }

const graphics = [];
// left axis titles
graphics.push(txt(22,129,'{i|F}{s|cont}',Math.PI/2));
graphics.push(txt(22,271,'{i|F}{s|Hβ}',Math.PI/2));
graphics.push(txt(22,413,'{i|A}',Math.PI/2));
graphics.push(txt(23,555,'{n|FWHM}',Math.PI/2));
graphics.push(txt(23,699,'{n|Residuals (}{i|A}{n|)}',Math.PI/2));
// right axis titles
graphics.push(txt(1347,413,'{i|c}{s|2}{i|F}{s|cont}{n| * }{i|G}',-Math.PI/2));
graphics.push(txt(1347,556,'{i|c}{s|2}{i|F}{s|cont}{n| * }{i|G}',-Math.PI/2));
graphics.push(txt(1345,699,'{n|Residuals (FWHM)}',-Math.PI/2));
// x axis title
graphics.push(txt(686,806,'{n|JD\u22122450000 (days)}',0));
// panel 1 legend
[['CRTS',C_RED,849,872],['ASAS \u2212 SN',C_BLUE,949,973],['ZTF',C_GREEN,1094,1117],['WIRO',C_ORANGE,1182,1206]].forEach(it=>{
  errMarker(it[2],83,it[1],10).forEach(g=>graphics.push(g));
  graphics.push(txt(it[3],83,'{n|'+it[0]+'}',0,'left',19));
});
// panel 3 legend
graphics.push(dot(136,370,C_ORANGE,2.6,0.85));
graphics.push(txt(157,370,'{n|model}',0,'left',19));
errMarker(136,396,C_BLUE,10).forEach(g=>graphics.push(g));
graphics.push(txt(157,396,'{n|observed}',0,'left',19));
graphics.push(txt(123,458,'{i|c}{s|1}{n| = 0.014,  }{i|c}{s|2}{n| = 0.024}',0,'left',19));
// panel 4 legend
graphics.push(dot(136,513,C_ORANGE,2.6,0.85));
graphics.push(txt(157,513,'{n|model}',0,'left',19));
errMarker(136,539,C_BLUE,10).forEach(g=>graphics.push(g));
graphics.push(txt(157,539,'{n|observed}',0,'left',19));
graphics.push(txt(123,601,'{i|c}{s|1}{n| = \u2212394.524,  }{i|c}{s|2}{n| = \u2212684.353}',0,'left',19));
// panel 5 legend
graphics.push(dot(136,659,C_BLUE,3.2,0.8));
graphics.push(txt(157,656,'{n|χ}{p|2}{si|A}{n| =2.513}',0,'left',19));
graphics.push(dot(136,689,C_ORANGE,3.2,0.8));
graphics.push(txt(157,686,'{n|χ}{p|2}{s|FWHM}{n| =3.604}',0,'left',19));

const chart = echarts.init(document.getElementById('c'), null, {renderer:'canvas'});
chart.setOption({
  animation:false,
  backgroundColor:'#fff',
  title:{text:'IRAS 05589+2828', left:'center', top:4, textStyle:{fontFamily:FONT, fontSize:24, fontWeight:'normal', color:'#000'}},
  grid:grids, xAxis:xAxes, yAxis:yAxes, series, graphic:graphics
});
</script></body></html>
